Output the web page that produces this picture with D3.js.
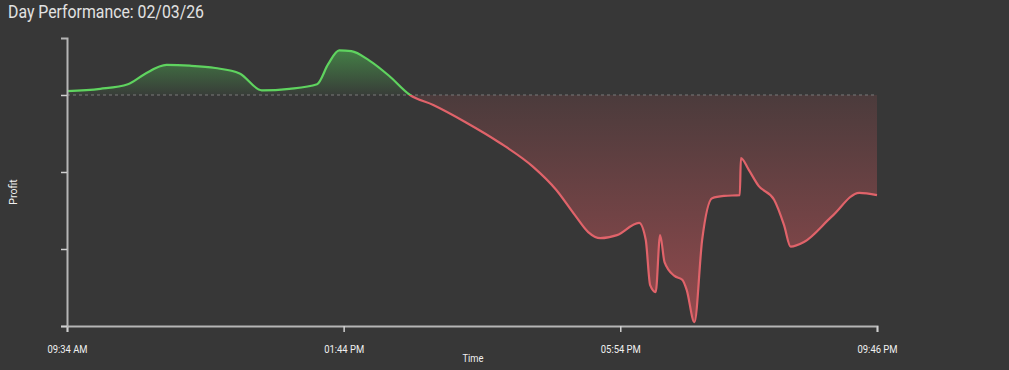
<!DOCTYPE html>
<html>
<head>
<meta charset="utf-8">
<script src="https://cdn.jsdelivr.net/npm/d3@7"></script>
<style>
  html, body { margin: 0; padding: 0; background: #373737; }
  svg { display: block; }
</style>
</head>
<body>
<svg id="chart" width="1009" height="370"></svg>
<script>
// ---- data ----
const chartTitle = "Day Performance: 02/03/26";
const times = ["09:34","10:04","10:29","10:44","11:04","11:25","11:48","12:10","12:30","12:55",
  "13:20","13:30","13:40","13:51","14:07","14:25","14:44","15:05","15:35","16:05",
  "16:35","16:56","17:13","17:25","17:36","17:51","18:11","18:17","18:21","18:26","18:30",
  "18:34","18:43","18:50","18:54","19:01","19:08","19:17","19:28","19:42","19:43",
  "19:50","19:59","20:13","20:22","20:28","20:40","21:05","21:30","21:46"];
const profits = [5,8,14,27,39,38,35,28,6,8,
  14,40,58,57,45,25,0,-13,-36,-62,
  -93,-123,-156,-178,-186,-182,-166,-188,-247,-256,-182,
  -217,-235,-240,-253,-295,-188,-134,-131,-130,-82,
  -97,-118,-136,-169,-197,-191,-158,-127,-130];
const xTickTimes = ["09:34","13:44","17:54","21:46"];
const yTickValues = [0,-100,-200,-300];
const yDomain = [-300, 74];
const xLabel = "Time";
const yLabel = "Profit";

// ---- layout ----
const W = 1009, H = 370;
const m = {left: 67, right: 132, top: 38, bottom: 44};
const svg = d3.select("#chart");
svg.append("rect").attr("width", W).attr("height", H).attr("fill", "#373737");

const parse = d3.timeParse("%H:%M");
const data = times.map((t, i) => ({t: parse(t), v: profits[i]}));

const x = d3.scaleTime()
  .domain([parse(times[0]), parse(times[times.length - 1])])
  .range([m.left, W - m.right]);
const y = d3.scaleLinear().domain(yDomain).range([H - m.bottom, m.top]);
const y0 = y(0);

const defs = svg.append("defs");
const gG = defs.append("linearGradient").attr("id", "gGreen")
  .attr("gradientUnits", "userSpaceOnUse")
  .attr("x1", 0).attr("x2", 0).attr("y1", y(yDomain[1])).attr("y2", y0);
gG.append("stop").attr("offset", 0).attr("stop-color", "#4caf50").attr("stop-opacity", 0.75);
gG.append("stop").attr("offset", 1).attr("stop-color", "#4caf50").attr("stop-opacity", 0.05);
const gR = defs.append("linearGradient").attr("id", "gRed")
  .attr("gradientUnits", "userSpaceOnUse")
  .attr("x1", 0).attr("x2", 0).attr("y1", y0).attr("y2", y(yDomain[0]));
gR.append("stop").attr("offset", 0).attr("stop-color", "#e05a60").attr("stop-opacity", 0.12);
gR.append("stop").attr("offset", 1).attr("stop-color", "#e05a60").attr("stop-opacity", 0.55);

defs.append("clipPath").attr("id", "clipAbove").append("rect")
  .attr("x", 0).attr("y", 0).attr("width", W).attr("height", y0);
defs.append("clipPath").attr("id", "clipBelow").append("rect")
  .attr("x", 0).attr("y", y0).attr("width", W).attr("height", H - y0);

const curve = d3.curveMonotoneX;
const area = d3.area().x(d => x(d.t)).y0(y0).y1(d => y(d.v)).curve(curve);
const line = d3.line().x(d => x(d.t)).y(d => y(d.v)).curve(curve);

// title
svg.append("text").attr("x", 8).attr("y", 18)
  .attr("font-family", "Roboto, sans-serif").attr("font-size", 18)
  .attr("textLength", 196).attr("lengthAdjust", "spacingAndGlyphs")
  .attr("fill", "#e2e2e2").text(chartTitle);

// areas
svg.append("path").datum(data).attr("d", area).attr("fill", "url(#gGreen)")
  .attr("clip-path", "url(#clipAbove)");
svg.append("path").datum(data).attr("d", area).attr("fill", "url(#gRed)")
  .attr("clip-path", "url(#clipBelow)");

// zero line
svg.append("line").attr("x1", m.left).attr("x2", W - m.right)
  .attr("y1", y0).attr("y2", y0)
  .attr("stroke", "#7a7a7a").attr("stroke-width", 1.2).attr("stroke-dasharray", "3,3");

// lines
svg.append("path").datum(data).attr("d", line).attr("fill", "none")
  .attr("stroke", "#5fd35f").attr("stroke-width", 2.2).attr("clip-path", "url(#clipAbove)");
svg.append("path").datum(data).attr("d", line).attr("fill", "none")
  .attr("stroke", "#e0636a").attr("stroke-width", 2.2).attr("clip-path", "url(#clipBelow)");

// axes
const fmt = d3.timeFormat("%I:%M %p");
const xAxis = svg.append("g").attr("transform", `translate(0,${H - m.bottom})`)
  .call(d3.axisBottom(x).tickValues(xTickTimes.map(parse)).tickFormat(fmt)
    .tickSize(6).tickPadding(13));
const yAxis = svg.append("g").attr("transform", `translate(${m.left},0)`)
  .call(d3.axisLeft(y).tickValues(yTickValues).tickFormat("").tickSize(6));
[xAxis, yAxis].forEach(g => {
  g.select(".domain").attr("stroke", "#b5b5b5").attr("stroke-width", 2);
  g.selectAll(".tick line").attr("stroke", "#d0d0d0").attr("stroke-width", 1.5);
  g.selectAll("text").attr("fill", "#f0f0f0").attr("font-family", "Roboto, sans-serif")
    .attr("font-size", 11);
});
xAxis.selectAll(".tick text").attr("textLength", 40).attr("lengthAdjust", "spacingAndGlyphs");

// axis labels
svg.append("text").attr("x", (m.left + W - m.right) / 2 + 1).attr("y", 362)
  .attr("text-anchor", "middle").attr("font-family", "Roboto, sans-serif")
  .attr("font-size", 10.5).attr("textLength", 21).attr("lengthAdjust", "spacingAndGlyphs")
  .attr("fill", "#f0f0f0").text(xLabel);
svg.append("text").attr("transform", `translate(17,${(m.top + H - m.bottom) / 2 + 10}) rotate(-90)`)
  .attr("text-anchor", "middle").attr("font-family", "Roboto, sans-serif")
  .attr("font-size", 10.5).attr("fill", "#f0f0f0").text(yLabel);
</script>
</body>
</html>
